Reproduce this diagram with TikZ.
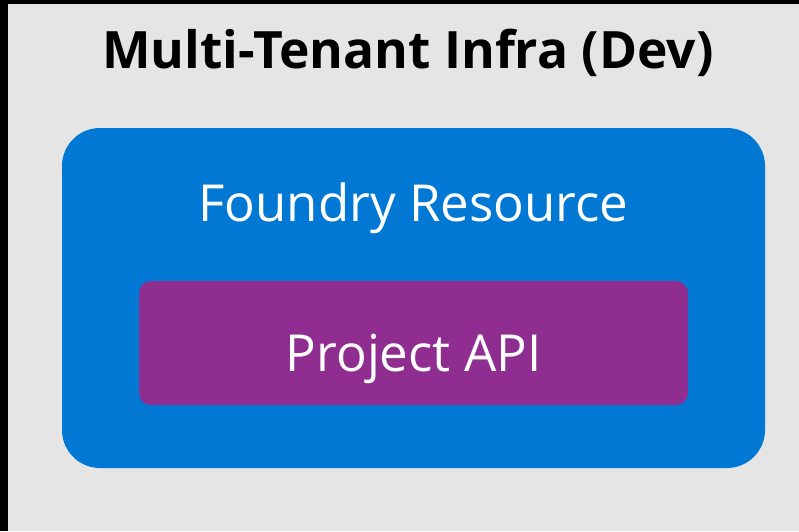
\documentclass[tikz,border=0pt]{standalone}
\usepackage{fontspec}
\setmainfont{Open Sans}
\definecolor{bggray}{HTML}{E5E5E5}
\definecolor{azure}{HTML}{0078D4}
\definecolor{projpurple}{HTML}{8F2D91}
\begin{document}
\begin{tikzpicture}[x=1pt,y=-1pt,
  container/.style={fill=azure,rounded corners=38pt},
  inner/.style={fill=projpurple,rounded corners=12pt},
  lbl/.style={text=white,font=\fontsize{51}{55}\selectfont,inner sep=0pt,anchor=base}]
\useasboundingbox (0,0) rectangle (799,531);
\fill[black] (0,0) rectangle (799,531);
\fill[bggray] (8,4) rectangle (799,531);
\node[font=\fontsize{51.5}{55}\selectfont\bfseries,inner sep=0pt,anchor=base] (title) at (408,68) {Multi-Tenant Infra (Dev)};
\fill[container] (62,128) rectangle (765,468);
\node[lbl] (foundry) at (413.5,221) {Foundry Resource};
\fill[inner] (139,281) rectangle (688,405);
\node[lbl] (project) at (413.5,371) {Project API};
\end{tikzpicture}
\end{document}
